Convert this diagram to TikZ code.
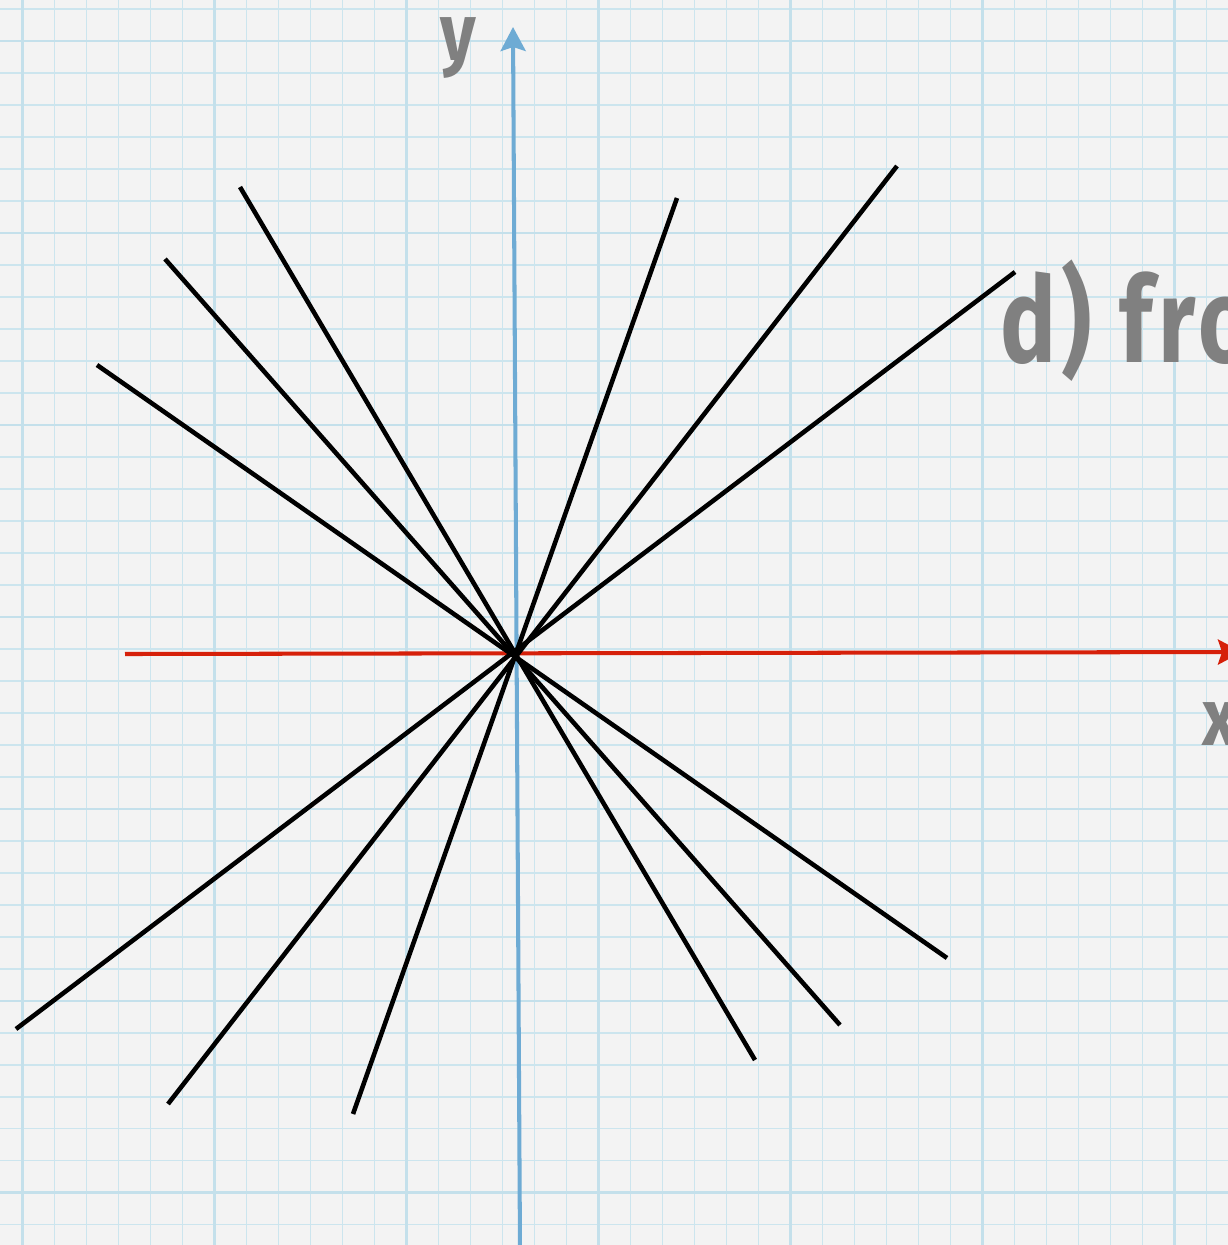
\documentclass[tikz,border=0pt]{standalone}
\usepackage{fontspec}
\usepackage{tikz}
\usetikzlibrary{arrows.meta}
\newfontfamily\handfont[LetterSpace=6]{Fira Sans}
\definecolor{paper}{RGB}{243,243,243}
\definecolor{gridblue}{RGB}{204,229,238}
\definecolor{gridbluedark}{RGB}{196,224,235}
\definecolor{axisblue}{RGB}{110,171,212}
\definecolor{axisred}{RGB}{214,32,10}
\definecolor{labelgray}{RGB}{128,128,128}

\begin{document}
\begin{tikzpicture}[
    x=0.02cm, y=-0.02cm,
    minor line/.style={draw=gridblue, line width=0.8pt, step=0.64cm},
    major line/.style={draw=gridbluedark, line width=1.5pt, step=3.84cm},
    ray/.style={draw=black, line width=2.6pt},
    x axis/.style={draw=axisred, line width=2.3pt,
        -{Stealth[length=0.48cm, width=0.5cm, inset=0.08cm]}},
    y axis/.style={draw=axisblue, line width=2.3pt,
        -{Stealth[length=0.48cm, width=0.5cm, inset=0.08cm]}},
    axis label/.style={text=labelgray, inner sep=0pt,
        font=\handfont\bfseries\fontsize{46}{46}\selectfont},
    title label/.style={text=labelgray, inner sep=0pt,
        font=\handfont\bfseries\fontsize{68}{68}\selectfont}
  ]

  % paper
  \useasboundingbox (0,0) rectangle (1228,1245);
  \clip (0,0) rectangle (1228,1245);
  \fill[paper] (0,0) rectangle (1228,1245);

  % grid
  \begin{scope}[shift={(22.7,41)}]
    \draw[minor line] (-100,-100) grid (1300,1300);
    \draw[major line] (-200,-200) grid (1300,1300);
  \end{scope}

  % axes
  \coordinate (xstart) at (125,654);
  \coordinate (xend) at (1242,652);
  \coordinate (ystart) at (520,1250);
  \coordinate (yend) at (513,27);
  \draw[x axis] (xstart) -- (xend);
  \draw[y axis] (ystart) -- (yend);

  % rays through the origin
  \coordinate (r1a) at (240,187);  \coordinate (r1b) at (755,1060);
  \coordinate (r2a) at (165,259);  \coordinate (r2b) at (840,1025);
  \coordinate (r3a) at (97,365);   \coordinate (r3b) at (947,958);
  \coordinate (r4a) at (677,198);  \coordinate (r4b) at (353,1114);
  \coordinate (r5a) at (897,166);  \coordinate (r5b) at (168,1104);
  \coordinate (r6a) at (1015,272); \coordinate (r6b) at (16,1029);
  \draw[ray] (r1a) -- (r1b);
  \draw[ray] (r2a) -- (r2b);
  \draw[ray] (r3a) -- (r3b);
  \draw[ray] (r4a) -- (r4b);
  \draw[ray] (r5a) -- (r5b);
  \draw[ray] (r6a) -- (r6b);

  % labels
  \node[axis label, anchor=base west] (ylabel) at (440,60) {\scalebox{0.85}[1]{y}};
  \node[axis label, anchor=base west] (xlabel) at (1202,745) {\scalebox{0.85}[1]{x}};
  \node[title label, anchor=base west] (title) at (1000,362) {\scalebox{0.78}[1]{d) fro}};
\end{tikzpicture}
\end{document}
